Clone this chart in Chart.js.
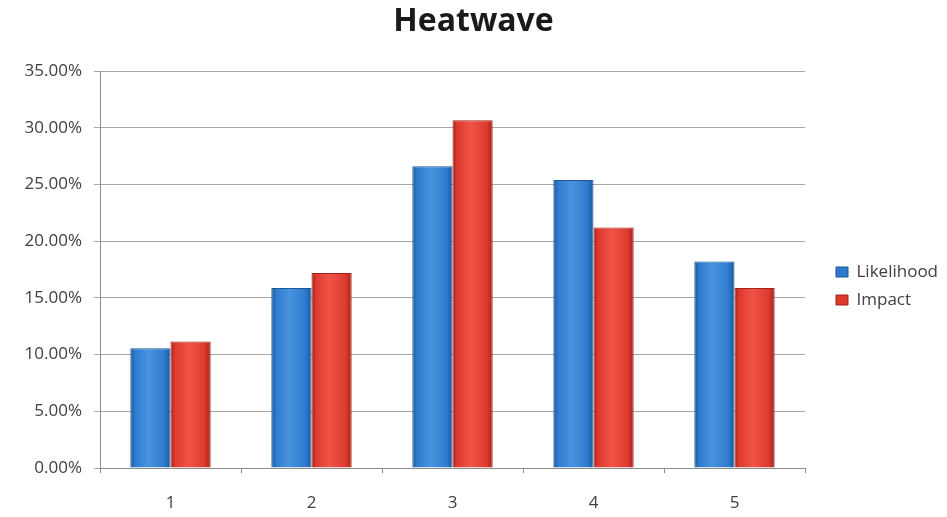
<!DOCTYPE html>
<html lang="en">
<head>
    <meta charset="UTF-8">
    <title>Heatwave</title>
    <script src="https://cdn.jsdelivr.net/npm/chart.js"></script>
    <style>
        body { margin: 0; background: #fff; }
    </style>
</head>
<body>
    <canvas id="heatChart" width="947" height="517"></canvas>

    <script>
        // Datos (porcentajes)
        const categories = ['1', '2', '3', '4', '5'];
        const likelihood = [10.56, 15.86, 26.6, 25.4, 18.2];
        const impact = [11.15, 17.2, 30.65, 21.2, 15.86];
        const seriesNames = ['Likelihood', 'Impact'];

        const FONT = "'Open Sans', sans-serif";
        const TEXT = '#404040';
        const BASE = ['#2e7bcf', '#de3a2e'];
        const LIGHT = ['#4a92de', '#ef5446'];
        const EDGE = ['#1c5798', '#a3231b'];
        const CAT_PCT = 0.57;

        // gradiente horizontal por barra (bordes oscuros, centro claro)
        function barFill(ds) {
            return (c) => {
                const chart = c.chart;
                const x = chart.scales.x;
                if (!chart.chartArea || !x || c.type !== 'data') return BASE[ds];
                const slot = (x.getPixelForValue(1) - x.getPixelForValue(0)) * CAT_PCT / 2;
                const cx = x.getPixelForValue(c.dataIndex);
                const left = ds === 0 ? cx - slot : cx;
                const g = chart.ctx.createLinearGradient(left, 0, left + slot, 0);
                g.addColorStop(0, EDGE[ds]);
                g.addColorStop(0.12, BASE[ds]);
                g.addColorStop(0.45, LIGHT[ds]);
                g.addColorStop(0.85, BASE[ds]);
                g.addColorStop(1, EDGE[ds]);
                return g;
            };
        }

        // leyenda a la derecha con ancho fijo, corrida un poco
        const legendSpot = {
            id: 'legendSpot',
            beforeLayout(chart) {
                const lg = chart.legend;
                if (lg && !lg._wide) {
                    const fit = lg.fit;
                    lg.fit = function () { fit.call(this); this.width = 142; };
                    lg._wide = true;
                }
            },
            afterLayout(chart) {
                const lg = chart.legend;
                lg.top += 30;
                lg.bottom += 30;
                lg.left += 20;
                lg.right += 20;
            }
        };

        const heatChart = new Chart(document.getElementById('heatChart'), {
            type: 'bar',
            data: {
                labels: categories,
                datasets: [{
                    label: seriesNames[0],
                    data: likelihood,
                    backgroundColor: barFill(0),
                    borderColor: EDGE[0],
                    borderWidth: 1
                }, {
                    label: seriesNames[1],
                    data: impact,
                    backgroundColor: barFill(1),
                    borderColor: EDGE[1],
                    borderWidth: 1
                }]
            },
            plugins: [legendSpot],
            options: {
                responsive: false,
                animation: false,
                layout: { padding: { left: 0, right: 0, top: 0, bottom: 5 } },
                datasets: {
                    bar: { categoryPercentage: CAT_PCT, barPercentage: 1 }
                },
                plugins: {
                    title: {
                        display: true,
                        text: 'Heatwave',
                        color: '#1a1a1a',
                        font: { family: FONT, size: 32, weight: 'bold', lineHeight: 1.2 },
                        padding: { top: 3, bottom: 29.6 }
                    },
                    legend: {
                        position: 'right',
                        labels: {
                            color: TEXT,
                            font: { family: FONT, size: 17 },
                            boxWidth: 12,
                            boxHeight: 10,
                            padding: 11,
                            generateLabels(chart) {
                                const items = Chart.defaults.plugins.legend.labels.generateLabels(chart);
                                items.forEach((it, i) => {
                                    it.fillStyle = BASE[i];
                                    it.strokeStyle = EDGE[i];
                                    it.lineWidth = 1;
                                });
                                return items;
                            }
                        }
                    },
                    tooltip: { enabled: false }
                },
                scales: {
                    x: {
                        afterFit(scale) { scale.height = 44; },
                        grid: {
                            display: true,
                            drawOnChartArea: false,
                            tickLength: 5,
                            color: '#8c8c8c'
                        },
                        border: { color: '#8c8c8c' },
                        ticks: {
                            color: TEXT,
                            font: { family: FONT, size: 17 },
                            padding: 20
                        }
                    },
                    y: {
                        min: 0,
                        max: 35,
                        afterFit(scale) { scale.width = 100; },
                        grid: {
                            color: '#a6a6a6',
                            tickLength: 6
                        },
                        border: { color: '#8c8c8c' },
                        ticks: {
                            stepSize: 5,
                            color: TEXT,
                            font: { family: FONT, size: 17 },
                            padding: 12,
                            callback: (v) => v.toFixed(2) + '%'
                        }
                    }
                }
            }
        });
    </script>
</body>
</html>
